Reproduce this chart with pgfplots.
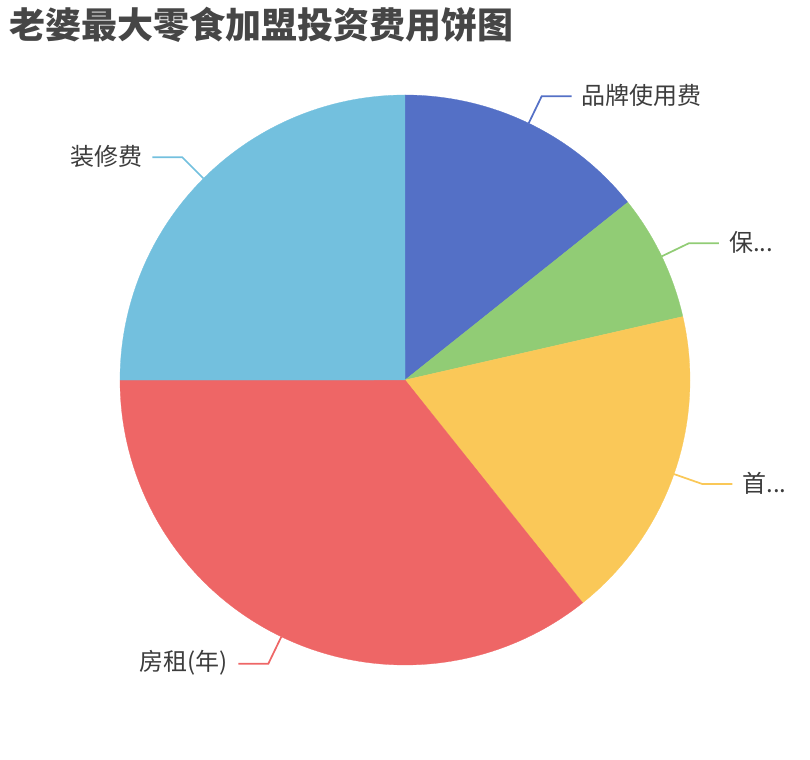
\documentclass[border=0pt]{standalone}
\usepackage{pgfplots}
\pgfplotsset{compat=1.18}
\usepackage{fontspec}
\setmainfont{Noto Sans CJK SC}
\definecolor{cA}{HTML}{5470C6}
\definecolor{cB}{HTML}{91CC75}
\definecolor{cC}{HTML}{FAC858}
\definecolor{cD}{HTML}{EE6666}
\definecolor{cE}{HTML}{73C0DE}
\definecolor{titlec}{HTML}{464646}
\definecolor{labc}{HTML}{3C3C3C}
% data: 品牌使用费, 保证金, 首批进货, 房租(年), 装修费
\def\vA{4}\def\vB{2}\def\vC{5}\def\vD{10}\def\vE{7}
\pgfmathsetmacro\tot{\vA+\vB+\vC+\vD+\vE}
\pgfmathsetmacro\aZ{90}
\pgfmathsetmacro\aA{\aZ-\vA/\tot*360}
\pgfmathsetmacro\aB{\aA-\vB/\tot*360}
\pgfmathsetmacro\aC{\aB-\vC/\tot*360}
\pgfmathsetmacro\aD{\aC-\vD/\tot*360}
\pgfmathsetmacro\aE{\aD-\vE/\tot*360}
\begin{document}
\begin{tikzpicture}
\begin{axis}[
  scale only axis, width=607.5pt, height=570pt,
  xmin=0, xmax=810, ymin=0, ymax=760,
  hide axis, clip=false,
]
\path (rel axis cs:0,0) rectangle (rel axis cs:1,1);
\addplot[fill=cA, draw=cA, line width=0.2pt, domain=\aA:\aZ, samples=90, variable=\t] ({405+285*cos(\t)},{380+285*sin(\t)}) -- (axis cs:405,380) -- cycle;
\addplot[fill=cB, draw=cB, line width=0.2pt, domain=\aB:\aA, samples=60, variable=\t] ({405+285*cos(\t)},{380+285*sin(\t)}) -- (axis cs:405,380) -- cycle;
\addplot[fill=cC, draw=cC, line width=0.2pt, domain=\aC:\aB, samples=90, variable=\t] ({405+285*cos(\t)},{380+285*sin(\t)}) -- (axis cs:405,380) -- cycle;
\addplot[fill=cD, draw=cD, line width=0.2pt, domain=\aD:\aC, samples=150, variable=\t] ({405+285*cos(\t)},{380+285*sin(\t)}) -- (axis cs:405,380) -- cycle;
\addplot[fill=cE, draw=cE, line width=0.2pt, domain=\aE:\aD, samples=110, variable=\t] ({405+285*cos(\t)},{380+285*sin(\t)}) -- (axis cs:405,380) -- cycle;
% leader lines
\addplot[cA, line width=1.3pt] coordinates {(528.7,636.8) (541.7,663.8) (571.7,663.8)};
\addplot[cB, line width=1.3pt] coordinates {(661.8,503.7) (688.8,516.7) (718.8,516.7)};
\addplot[cC, line width=1.3pt] coordinates {(674.0,285.9) (702.3,276.0) (732.3,276.0)};
\addplot[cD, line width=1.3pt] coordinates {(281.3,123.2) (268.3,96.2) (238.3,96.2)};
\addplot[cE, line width=1.3pt] coordinates {(203.5,581.5) (182.3,602.7) (152.3,602.7)};
% labels
\node[anchor=west, inner sep=0pt, text=labc, font=\fontsize{18pt}{20pt}\selectfont] at (axis cs:581.7,664.8) {品牌使用费};
\node[anchor=west, inner sep=0pt, text=labc, font=\fontsize{18pt}{20pt}\selectfont] at (axis cs:728.8,517.7) {保...};
\node[anchor=west, inner sep=0pt, text=labc, font=\fontsize{18pt}{20pt}\selectfont] at (axis cs:742.3,277.0) {首...};
\node[anchor=east, inner sep=0pt, text=labc, font=\fontsize{18pt}{20pt}\selectfont] at (axis cs:228.3,97.2) {房租(年)};
\node[anchor=east, inner sep=0pt, text=labc, font=\fontsize{18pt}{20pt}\selectfont] at (axis cs:142.3,603.7) {装修费};
% title
\node[anchor=west, inner sep=0pt, text=titlec, font=\fontsize{27pt}{30pt}\selectfont\bfseries] at (axis cs:9,735) {老婆最大零食加盟投资费用饼图};
\end{axis}
\end{tikzpicture}
\end{document}
